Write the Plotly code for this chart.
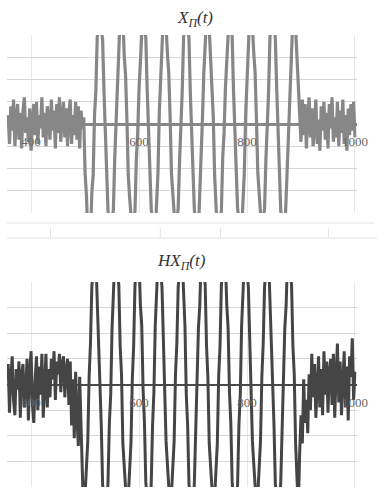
import numpy as np
import plotly.graph_objects as go

# ---- sampled signal values (time step 2.5, starting at t = 357.5) ----
T0 = 357.5
DT = 2.5

# X_Pi(t): noise, a 10-cycle burst, noise
x_noise_left = [
    0.4, -0.9, 0.8, -0.3, 1.1, -1.0, 0.2, 0.9, -0.7, 0.5,
    -1.1, 0.6, 1.2, -0.4, 0.3, -0.8, 0.7, -1.2, 0.1, 0.9,
    -0.5, 1.0, -0.9, 0.4, -0.2, 1.2, -0.6, 0.5, -1.0, 0.8,
    0.2, -0.7, 1.1, -0.3, 0.6, -1.1, 0.9, -0.4, 1.2, -0.8,
    0.3, 1.0, -0.6, 0.7, -1.0, 0.5, 1.1, -0.9, 0.4, -0.5,
    1.0, -0.7, 0.8, -1.1, 0.6, -0.2,
]
x_burst = [
    0.3, -2.2, -3.2, -4.9, -4.7, -5.1, -3.1, -2.3, 0.4, 1.5, 3.9, 4.3, 5.3, 4.2, 3.8, 1.5,
    -0.4, -1.6, -3.9, -4.3, -5.3, -4.4, -3.8, -1.5, 0.3, 2.3, 3.2, 4.9, 4.7, 4.9, 3.1, 2.2,
    0.2, -2.3, -3.3, -4.8, -4.8, -4.3, -3.9, -1.6, -0.4, 1.6, 3.8, 4.4, 5.2, 4.3, 3.9, 1.6,
    -0.3, -1.5, -3.8, -4.4, -5.2, -4.9, -3.2, -2.2, 0.5, 2.2, 3.1, 4.9, 4.8, 4.4, 3.2, 2.3,
    0.4, -2.2, -3.1, -4.9, -4.9, -4.3, -3.8, -1.7, -0.3, 1.5, 3.9, 4.3, 5.3, 4.8, 3.8, 1.4,
    -0.2, -1.7, -3.9, -4.2, -5.2, -4.8, -3.1, -2.3, 0.3, 2.3, 3.2, 4.8, 4.7, 4.3, 3.1, 2.2,
    0.3, -2.3, -3.2, -4.9, -4.8, -4.4, -3.9, -1.5, -0.4, 1.6, 3.8, 4.3, 5.2, 4.9, 3.9, 1.5,
    -0.3, -1.6, -3.8, -4.3, -5.3, -4.8, -3.2, -2.2, 0.4, 2.2, 3.1, 4.9, 4.8, 4.4, 3.2, 2.3,
    0.2, -2.2, -3.1, -4.8, -4.9, -4.3, -3.8, -1.6, -0.3, 1.5, 3.9, 4.4, 5.3, 4.8, 3.8, 1.6,
    -0.4, -1.5, -3.9, -4.4, -5.2, -4.9, -3.1, -2.3, 0.3, 2.3, 3.2, 4.8, 4.7, 4.3, 3.1, 1.8,
]
x_noise_right = [
    0.1, -0.8, 1.1, -0.5, 0.9, -1.1, 0.3, 1.2, -0.6, 0.7,
    -1.0, 0.4, 1.1, -0.9, 0.2, -1.2, 0.8, -0.3, 1.0, -0.7,
    0.5, -1.1, 0.9, -0.2, 1.2, -0.8, 0.3, -0.6, 1.0, -1.0,
    0.6, -0.4, 1.1, -0.9, 0.4, -1.2, 0.7, -0.5, 0.9, -0.3, 1.0, -0.6,
]

# HX_Pi(t): Hilbert transform of the same record
hx_noise_left = [
    0.8, -1.1, 0.3, 1.1, -0.6, -1.2, 0.6, -0.2, 0.9,
    -1.3, 0.4, 0.8, -0.9, -0.3, 1.0, -1.4,
    0.5, 1.3, -0.8, -1.5, 0.2, 1.1, -1.0, 0.7, -0.4, 1.2, -1.3,
    0.3, 1.2, -0.9, 0.6, -0.5, 1.0,
    0.2, 1.3, -0.6, 0.9, 0.4, 1.2, -0.3, 0.8, 1.1, -0.5, 0.6, 1.0,
    -0.8, 0.9, -1.6, 0.2, -2.1, 0.5, -1.3,
    -2.4, 0.3, -1.8, -3.7,
]
hx_burst = [
    -5.3, -4.3, -3.2, -2.2, 0.3, 1.6, 3.8, 4.4, 5.2, 4.9, 3.2, 2.2, -0.3, -1.6, -3.9, -4.3,
    -5.1, -4.8, -3.8, -1.5, -0.4, 2.2, 3.1, 4.9, 4.8, 4.3, 3.9, 1.5, 0.4, -2.3, -3.2, -4.9,
    -4.9, -4.4, -3.1, -2.3, 0.2, 1.5, 3.9, 4.3, 5.3, 4.8, 3.1, 2.3, -0.2, -1.5, -3.8, -4.4,
    -5.2, -4.9, -3.9, -1.6, -0.3, 2.3, 3.2, 4.8, 4.7, 4.4, 3.8, 1.6, 0.3, -2.2, -3.1, -4.8,
    -4.8, -4.3, -3.2, -2.2, 0.4, 1.6, 3.8, 4.4, 5.2, 4.9, 3.2, 2.3, -0.4, -1.6, -3.9, -4.3,
    -5.3, -4.8, -3.8, -1.5, -0.2, 2.2, 3.1, 4.9, 4.8, 4.3, 3.9, 1.5, 0.3, -2.3, -3.2, -4.9,
    -4.9, -4.4, -3.1, -2.3, 0.3, 1.5, 3.9, 4.3, 5.3, 4.8, 3.1, 2.2, -0.3, -1.5, -3.8, -4.4,
    -5.2, -4.9, -3.9, -1.6, -0.4, 2.3, 3.2, 4.8, 4.7, 4.4, 3.8, 1.6, 0.2, -2.2, -3.1, -4.8,
    -4.8, -4.3, -3.2, -2.2, 0.3, 1.6, 3.8, 4.4, 5.2, 4.9, 3.2, 2.3, -0.3, -1.6, -3.9, -4.3,
    -5.3, -4.8, -3.8, -1.5, -0.3, 2.2, 3.1, 4.9, 4.8, 4.3, 3.9, 1.5, 0.4, -2.3, -3.2, -4.9,
]
hx_noise_right = [
    -2.7, -1.2, -2.3, 0.2, -1.5, -0.6, -1.9, 0.4,
    -1.0, 1.2, -0.5, 0.8, -1.3, 0.3, 1.1, -0.9, 0.6, -1.2, 1.3, -0.4, 0.9, -1.1, 0.5, 1.0,
    -0.8, 1.2, -1.3, 0.4, 1.6, -0.7, 0.9, -1.2, 0.2, 1.3, -0.9, 0.7, -1.4, 1.1, 0.3, 1.8, -0.6, 0.5,
]

tick_values = [400, 600, 800, 1000]
tick_labels = ["400", "600", "800", "1000"]

x_signal = x_noise_left + x_burst + x_noise_right
hx_signal = hx_noise_left + hx_burst + hx_noise_right
t_x = T0 + DT * np.arange(len(x_signal))
t_hx = T0 + DT * np.arange(len(hx_signal))

W, H = 388, 493


def px_x(p):
    return p / W


def px_y(p):
    return 1 - p / H


fig = go.Figure()

fig.add_trace(go.Scatter(
    x=t_x, y=x_signal, mode="lines",
    line=dict(color="#878787", width=3.2),
    xaxis="x", yaxis="y", showlegend=False, hoverinfo="skip",
))
fig.add_trace(go.Scatter(
    x=t_hx, y=hx_signal, mode="lines",
    line=dict(color="#454545", width=3.0),
    xaxis="x2", yaxis="y2", showlegend=False, hoverinfo="skip",
))

dom_x = [px_x(7), px_x(367)]
dom_top = [px_y(213), px_y(35)]
dom_bot = [px_y(487), px_y(282)]

xaxis_common = dict(
    range=[355, 1003],
    domain=dom_x,
    tickmode="array",
    tickvals=tick_values,
    ticktext=tick_labels,
    showgrid=True,
    gridcolor="#e8e8e8",
    gridwidth=1,
    zeroline=False,
    showline=False,
    ticks="",
    ticklabelstandoff=8,
    tickfont=dict(family="Liberation Serif, serif", size=13, color="#666666"),
    layer="above traces",
    anchor="free",
)
yaxis_common = dict(
    range=[-4, 4],
    dtick=1,
    showticklabels=False,
    showgrid=True,
    gridcolor="#d8d8d8",
    gridwidth=1,
    ticks="",
    showline=False,
)

fig.update_layout(
    width=W, height=H,
    margin=dict(l=0, r=0, t=0, b=0),
    paper_bgcolor="white",
    plot_bgcolor="white",
    xaxis=dict(**xaxis_common, position=(dom_top[0] + dom_top[1]) / 2),
    yaxis=dict(**yaxis_common, domain=dom_top, anchor="x",
               zeroline=True, zerolinecolor="#888888", zerolinewidth=3),
    xaxis2=dict(**xaxis_common, position=(dom_bot[0] + dom_bot[1]) / 2),
    yaxis2=dict(**yaxis_common, domain=dom_bot, anchor="x2",
                zeroline=True, zerolinecolor="#4a4a4a", zerolinewidth=2),
)

title_font = dict(family="Liberation Serif, DejaVu Serif, serif", size=17, color="#333333")
fig.add_annotation(
    text="<i>X</i><sub><i>Π</i></sub><i>(t)</i>",
    xref="paper", yref="paper", x=px_x(201), y=px_y(19),
    xanchor="center", yanchor="middle", showarrow=False, font=title_font,
)
fig.add_annotation(
    text="<i>HX</i><sub><i>Π</i></sub><i>(t)</i>",
    xref="paper", yref="paper", x=px_x(187), y=px_y(262),
    xanchor="center", yanchor="middle", showarrow=False, font=title_font,
)

# faint frame lines in the gap between the two panels
gap_color = "#e4e4e4"
fig.add_shape(type="line", xref="paper", yref="paper",
              x0=px_x(7), x1=px_x(385), y0=px_y(223), y1=px_y(223),
              line=dict(color=gap_color, width=1))
fig.add_shape(type="line", xref="paper", yref="paper",
              x0=px_x(7), x1=px_x(388), y0=px_y(238), y1=px_y(238),
              line=dict(color=gap_color, width=1))
for xp in [52, 165, 227, 338]:
    fig.add_shape(type="line", xref="paper", yref="paper",
                  x0=px_x(xp), x1=px_x(xp), y0=px_y(228), y1=px_y(238),
                  line=dict(color=gap_color, width=1))

fig.write_html("out.html")
